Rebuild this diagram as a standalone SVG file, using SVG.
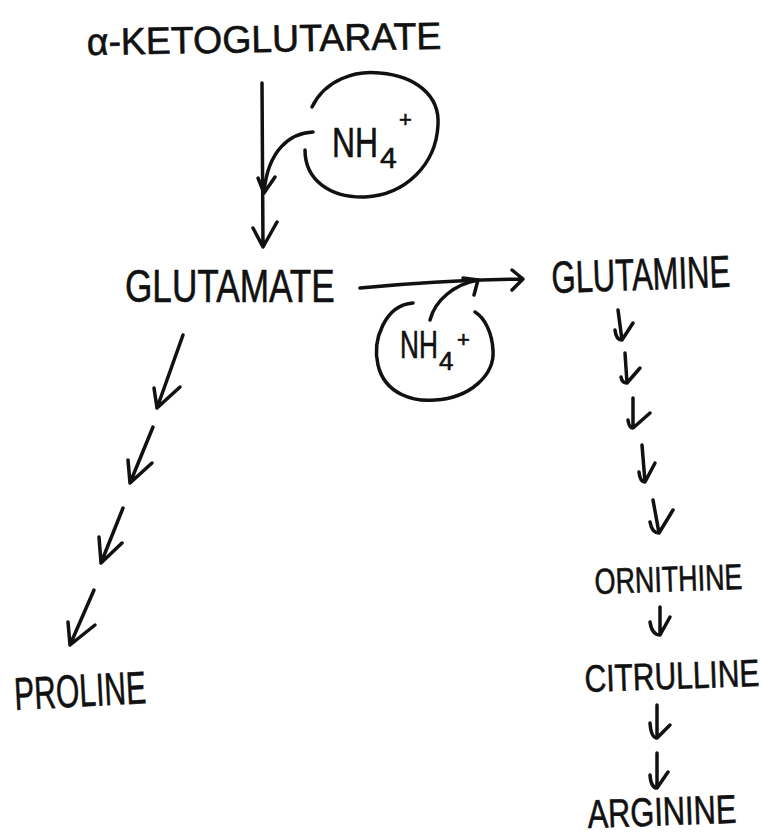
<svg xmlns="http://www.w3.org/2000/svg" width="762" height="838" viewBox="0 0 762 838">
  <style>
    .ink { fill: none; stroke: #111; stroke-width: 3.5; stroke-linecap: round; stroke-linejoin: round; }
    .lbl { font-family: "Liberation Sans", "DejaVu Sans", sans-serif; fill: #111; stroke: #111; stroke-width: 0.6; }
  </style>
  <rect width="762" height="838" fill="#fff"/>

  <!-- metabolites (narrow lettering: horizontal scale on each label) -->
  <g id="akg">
    <text class="lbl" font-size="38" transform="translate(87,55) rotate(-1) scale(0.986,1)">α-KETOGLUTARATE</text>
  </g>
  <g id="glutamate">
    <text class="lbl" font-size="46" transform="translate(125,302) scale(0.765,1)">GLUTAMATE</text>
  </g>
  <g id="glutamine">
    <text class="lbl" font-size="45" transform="translate(552,293) rotate(-2) scale(0.69,1)">GLUTAMINE</text>
  </g>
  <g id="proline">
    <text class="lbl" font-size="46" transform="translate(15,710) rotate(-3) scale(0.653,1)">PROLINE</text>
  </g>
  <g id="ornithine">
    <text class="lbl" font-size="36" transform="translate(595,594) rotate(-2) scale(0.747,1)">ORNITHINE</text>
  </g>
  <g id="citrulline">
    <text class="lbl" font-size="38" transform="translate(585,692) rotate(-2) scale(0.789,1)">CITRULLINE</text>
  </g>
  <g id="arginine">
    <text class="lbl" font-size="40" transform="translate(588,828) rotate(-2) scale(0.77,1)">ARGININE</text>
  </g>

  <!-- ammonium inputs -->
  <g id="nh4-1">
    <path class="ink" d="M312,107 C325,80 355,70 380,73 C415,76 440,95 438,125 C436,165 405,195 365,197 C330,198 305,180 305,150"/>
    <text class="lbl" font-size="42" transform="translate(332,157) scale(0.76,1)">NH</text>
    <text class="lbl" font-size="30" x="380" y="168">4</text>
    <text class="lbl" font-size="22" x="399" y="127">+</text>
  </g>
  <g id="nh4-2">
    <path class="ink" d="M413,303 C385,305 372,340 378,365 C385,395 415,402 435,400 C470,398 495,375 493,350 C492,333 485,318 475,312"/>
    <text class="lbl" font-size="38" transform="translate(400,358) scale(0.69,1)">NH</text>
    <text class="lbl" font-size="26" x="439" y="370">4</text>
    <text class="lbl" font-size="22" x="457" y="347">+</text>
  </g>

  <!-- reaction arrows -->
  <g id="connectors">
    <!-- alpha-KG to glutamate -->
    <path class="ink" d="M262,83 L263,247 M253,228 L263,247 L277,222"/>
    <path class="ink" d="M313,132 C290,133 268,150 264,192 M258,178 L264,193 L275,177"/>
    <!-- glutamate to glutamine -->
    <path class="ink" d="M360,288 Q440,280 523,279 M512,270 L523,279 L512,290"/>
    <path class="ink" d="M430,320 C435,300 455,284 478,280 M463,278 L478,280 L474,295"/>
    <!-- glutamate to proline -->
    <path class="ink" d="M183,335 L157,408 M154,388 L157,408 L180,387"/>
    <path class="ink" d="M153,427 L130,483 M128,460 L130,483 L152,463"/>
    <path class="ink" d="M123,508 L101,563 M99,537 L101,563 L122,543"/>
    <path class="ink" d="M94,590 L70,645 M68,622 L70,645 L95,625"/>
    <!-- glutamine to ornithine -->
    <path class="ink" d="M618,310 L622,340 M615,330 Q616,340 622,340 L633,323"/>
    <path class="ink" d="M625,353 L627,383 M621,377 Q622,383 627,383 L640,368"/>
    <path class="ink" d="M633,398 L633,428 M628,420 Q629,428 633,428 L650,413"/>
    <path class="ink" d="M642,445 L645,482 M639,472 Q640,482 645,482 L655,463"/>
    <path class="ink" d="M653,500 L659,533 M650,522 Q652,533 659,533 L673,510"/>
    <!-- ornithine to citrulline to arginine -->
    <path class="ink" d="M660,607 L660,635 M650,622 Q652,635 660,635 L670,617"/>
    <path class="ink" d="M657,705 L657,738 M650,723 Q651,738 657,738 L670,725"/>
    <path class="ink" d="M657,753 L657,788 M650,775 Q651,788 657,788 L668,772"/>
  </g>
</svg>
